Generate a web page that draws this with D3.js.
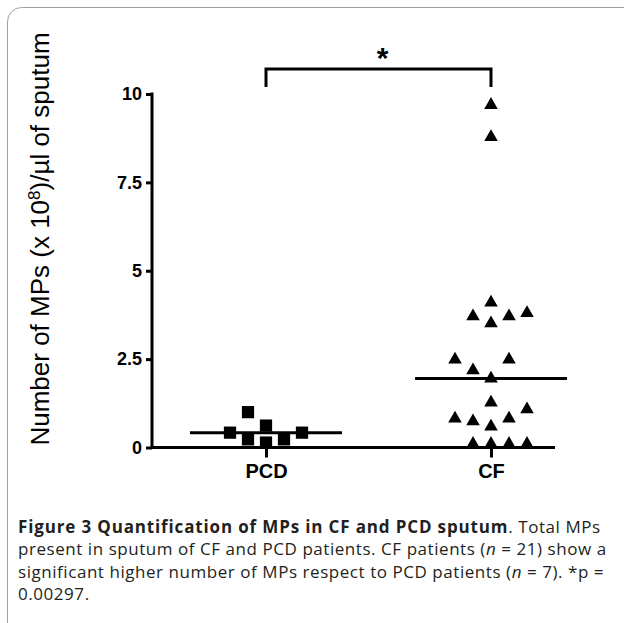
<!DOCTYPE html>
<html>
<head>
<meta charset="utf-8">
<script src="https://cdn.jsdelivr.net/npm/d3@7"></script>
<style>
  body { margin: 0; background: #fff; }
  .axis path, .axis line { stroke: #000; stroke-width: 3; }
  .axis text { font-family: Arial, "Liberation Sans", sans-serif; font-weight: bold; fill: #000; }
  .caption { font-family: "Open Sans", sans-serif; font-size: 17px; letter-spacing: 0.55px; fill: #231f20; }
</style>
</head>
<body>
<div class="d3Area"></div>
<script>
// chart data
let categories = ["PCD", "CF"];
let pcdValues = [1.0, 0.42, 0.62, 0.23, 0.23, 0.14, 0.42];
let pcdSlots = [-1, -2, 0, -1, 1, 0, 2]; // jitter column of each point
let cfValues = [9.69, 8.78, 4.1, 3.71, 3.51, 3.71, 3.8, 2.49, 2.49, 2.18, 1.95,
  1.27, 0.82, 0.74, 0.59, 0.82, 1.08, 0.1, 0.1, 0.1, 0.1];
let cfSlots = [0, 0, 0, -1, 0, 1, 2, -2, 1, -1, 0, 0, -2, -1, 0, 1, 2, -1, 0, 1, 2];
let yTicks = [0, 2.5, 5, 7.5, 10];
let yTickLabels = ["0", "2.5", "5", "7.5", "10"];

let captionLines = [
  [{ t: "Figure 3 Quantification of MPs in CF and PCD sputum", b: true }, { t: ". Total MPs" }],
  [{ t: "present in sputum of CF and PCD patients. CF patients (" }, { t: "n", i: true }, { t: " = 21) show a" }],
  [{ t: "significant higher number of MPs respect to PCD patients (" }, { t: "n", i: true }, { t: " = 7). *p =" }],
  [{ t: "0.00297." }],
];

var outerWidth = 624,
  outerHeight = 623;

var svg = d3
  .select(".d3Area")
  .append("svg")
  .attr("width", outerWidth)
  .attr("height", outerHeight);

// rounded figure frame
svg
  .append("rect")
  .attr("x", 7.5)
  .attr("y", 7.5)
  .attr("width", 680)
  .attr("height", 680)
  .attr("rx", 14)
  .attr("fill", "#fff")
  .attr("stroke", "#a0a0a0");

var plotLeft = 152,
  plotRight = 555,
  plotTop = 94,
  plotBottom = 447.5;

var y = d3.scaleLinear().domain([0, 10]).range([plotBottom, plotTop]);
var x = d3.scalePoint().domain(categories).range([266, 491]);
var jitter = d3.scaleLinear().domain([-2, 2]).range([-36, 36]);

// y axis
let domYAxis = svg
  .append("g")
  .attr("class", "y axis")
  .attr("transform", "translate(" + plotLeft + ",0)")
  .call(
    d3.axisLeft(y)
      .tickValues(yTicks)
      .tickFormat((d, i) => yTickLabels[i])
      .tickSize(6)
      .tickSizeOuter(0)
      .tickPadding(4)
  );
domYAxis.selectAll("text").style("font-size", "18px");
domYAxis.select(".domain").attr("d", "M0," + (plotBottom + 1.5) + "V" + (plotTop - 1.5));

// x axis
let domXAxis = svg
  .append("g")
  .attr("class", "x axis")
  .attr("transform", "translate(0," + plotBottom + ")")
  .call(d3.axisBottom(x).tickSize(10).tickSizeOuter(0).tickPadding(6));
domXAxis.select(".domain").attr("d", "M" + plotLeft + ",0H" + plotRight);
domXAxis.selectAll("text").style("font-size", "20px");

// y axis title
svg
  .append("text")
  .attr("transform", "translate(48.5," + 239 + ") rotate(-90)")
  .attr("text-anchor", "middle")
  .style("font-family", "Arial, 'Liberation Sans', sans-serif")
  .style("font-size", "26px")
  .html('Number of MPs (x 10<tspan dy="-9" font-size="17px">8</tspan><tspan dy="9">)/µl of sputum</tspan>');

// points
let groups = [
  { id: "PCD", values: pcdValues, slots: pcdSlots, shape: d3.symbolSquare, size: 150 },
  { id: "CF", values: cfValues, slots: cfSlots, shape: d3.symbolTriangle, size: 80 },
];

groups.forEach((item) => {
  let pts = item.values.map((v, i) => ({ v: v, s: item.slots[i] }));
  svg
    .selectAll(".dot" + item.id)
    .data(pts)
    .enter()
    .append("path")
    .attr("d", d3.symbol(item.shape, item.size))
    .attr("transform", (d) => "translate(" + (x(item.id) + jitter(d.s)) + "," + y(d.v) + ")")
    .attr("fill", "#000");

  // median line
  let med = d3.median(item.values);
  svg
    .append("line")
    .attr("x1", x(item.id) - 76)
    .attr("x2", x(item.id) + 76)
    .attr("y1", y(med))
    .attr("y2", y(med))
    .attr("stroke", "#000")
    .attr("stroke-width", 3);
});

// significance bracket
svg
  .append("path")
  .attr("d", "M" + x("PCD") + ",87V69H" + x("CF") + "V87")
  .attr("fill", "none")
  .attr("stroke", "#000")
  .attr("stroke-width", 3);

svg
  .append("text")
  .attr("x", (x("PCD") + x("CF")) / 2 + 4)
  .attr("y", 68)
  .attr("text-anchor", "middle")
  .style("font-family", "Arial, 'Liberation Sans', sans-serif")
  .style("font-weight", "bold")
  .style("font-size", "30px")
  .text("*");

// caption
let cap = svg.append("text").attr("class", "caption");
captionLines.forEach((line, li) => {
  line.forEach((part, pi) => {
    let ts = cap.append("tspan").text(part.t);
    if (pi === 0) ts.attr("x", 18).attr("y", 533 + li * 22.3);
    if (part.b) ts.style("font-weight", "bold").style("letter-spacing", "0.85px");
    if (part.i) ts.style("font-style", "italic");
  });
});
</script>
</body>
</html>
